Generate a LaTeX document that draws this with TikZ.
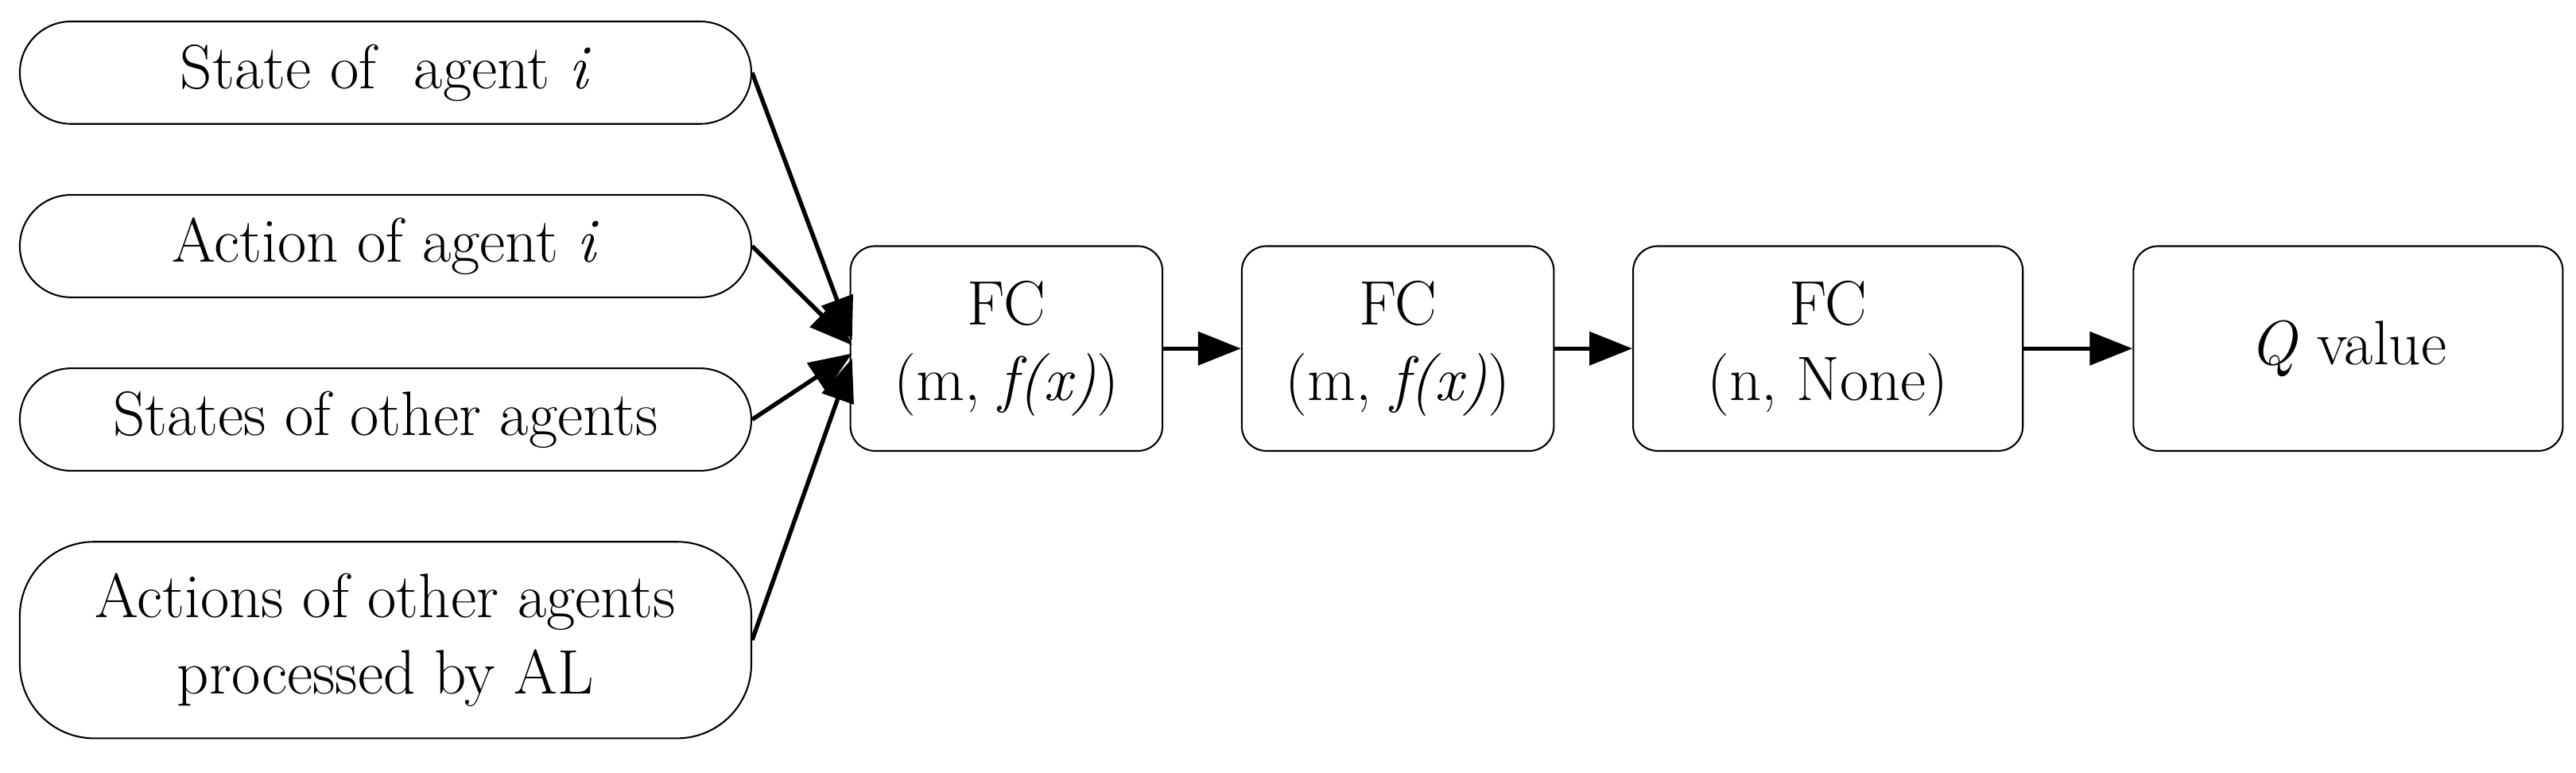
\documentclass[tikz,border=0pt]{standalone}
\usetikzlibrary{arrows.meta}
\begin{document}
\begin{tikzpicture}[x=1pt,y=-1pt,
  inp/.style={draw,line width=1pt,rounded corners=#1,inner sep=0pt},
  fc/.style={draw,line width=1pt,rounded corners=15pt,inner sep=0pt,align=center},
  arr/.style={line width=2.6pt,-{Triangle[length=26pt,width=20pt]}},
  every node/.style={font=\fontsize{38}{46}\selectfont}]
\useasboundingbox (0,0) rectangle (1560,468);
\node[inp=31pt,minimum width=443pt,minimum height=62pt] (s1) at (233.5,44) {State of~ agent \textit{i}};
\node[inp=31pt,minimum width=443pt,minimum height=62pt] (s2) at (233.5,149) {Action of agent \textit{i}};
\node[inp=31pt,minimum width=443pt,minimum height=62pt] (s3) at (233.5,254) {States of other agents};
\node[inp=45pt,minimum width=443pt,minimum height=119pt,align=center] (s4) at (233.5,387.5) {Actions of other agents\\processed by AL};
\node[fc,minimum width=189pt,minimum height=124pt] (f1) at (609.5,211) {FC\\(m, \textit{f(x)})};
\node[fc,minimum width=189pt,minimum height=124pt] (f2) at (846.5,211) {FC\\(m, \textit{f(x)})};
\node[fc,minimum width=236pt,minimum height=124pt] (f3) at (1107,211) {FC\\(n, None)};
\node[fc,minimum width=260pt,minimum height=124pt] (q) at (1422,211) {\textit{Q} value};
\coordinate (t1) at (516,206);
\coordinate (t2) at (516,209);
\coordinate (t3) at (516,214);
\coordinate (t4) at (516,217);
\draw[arr] (s1.east) -- (t1);
\draw[arr] (s2.east) -- (t2);
\draw[arr] (s3.east) -- (t3);
\draw[arr] (s4.east) -- (t4);
\draw[arr] (f1) -- (f2);
\draw[arr] (f2) -- (f3);
\draw[arr] (f3) -- (q);
\end{tikzpicture}
\end{document}
